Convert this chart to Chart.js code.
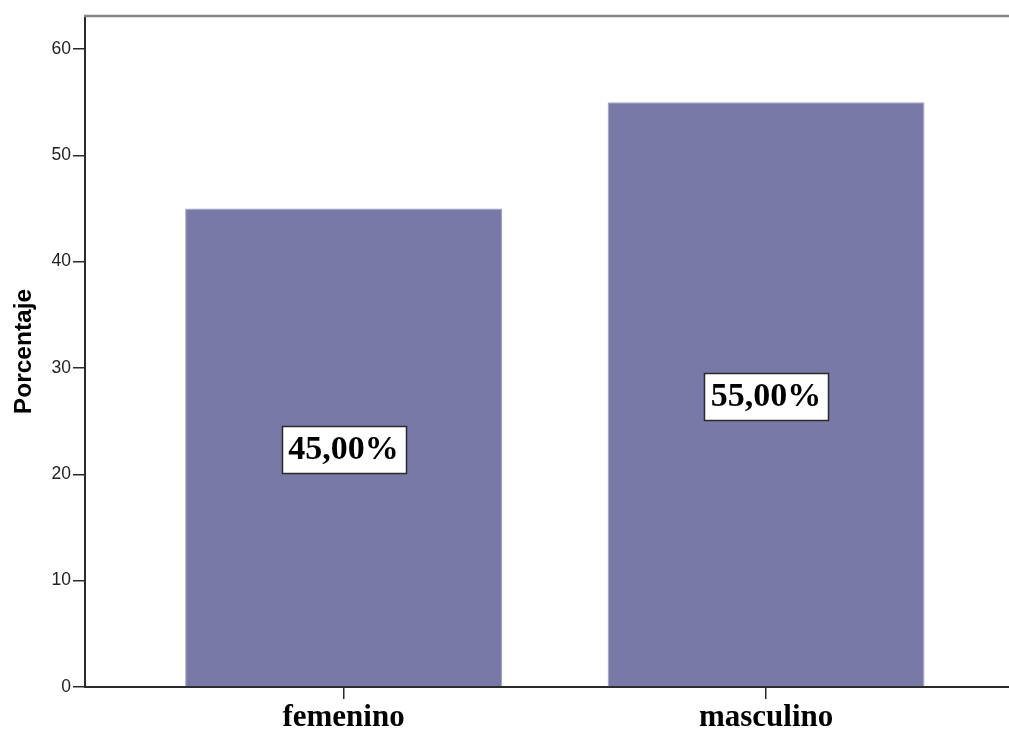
<!DOCTYPE html>
<html lang="es">
<head>
<meta charset="utf-8">
<title>Porcentaje por sexo</title>
<script src="https://cdn.jsdelivr.net/npm/chart.js@4.4.1/dist/chart.umd.min.js"></script>
<style>
  html, body { margin: 0; padding: 0; background: #ffffff; overflow: hidden; }
  #wrap { width: 1009px; height: 733px; }
</style>
</head>
<body>
<div id="wrap"><canvas id="chart" width="1009" height="733"></canvas></div>
<script>
// Categories and percentages
const categories = ['femenino', 'masculino'];
const percentages = [45, 55];
const yTicks = [0, 10, 20, 30, 40, 50, 60];

const barFill = '#7979a7';
const barEdge = '#a3a3c4';

// Percent text with a decimal comma, e.g. "45,00%"
function formatPercent(v) {
  return v.toFixed(2).replace('.', ',') + '%';
}

// Boxed value label at the middle of each bar
const boxedLabels = {
  id: 'boxedLabels',
  afterDatasetsDraw(chart) {
    const ctx = chart.ctx;
    const meta = chart.getDatasetMeta(0);
    ctx.save();
    ctx.font = 'bold 34px "Liberation Serif", "Times New Roman", serif';
    ctx.textAlign = 'center';
    ctx.textBaseline = 'middle';
    meta.data.forEach((bar, i) => {
      const text = formatPercent(percentages[i]);
      const cx = bar.x;
      const cy = (bar.y + bar.base) / 2 + 2;
      const w = ctx.measureText(text).width + 13;
      const h = 47;
      const x0 = Math.round(cx - w / 2) + 0.5;
      const y0 = Math.round(cy - h / 2) + 0.5;
      ctx.fillStyle = '#ffffff';
      ctx.fillRect(x0, y0, Math.round(w), h);
      ctx.strokeStyle = '#2a2a2a';
      ctx.lineWidth = 1.5;
      ctx.strokeRect(x0, y0, Math.round(w), h);
      ctx.fillStyle = '#000000';
      ctx.fillText(text, cx, cy + 1);
    });
    ctx.restore();
  }
};

// Gray frame line along the top of the plot area
const topFrame = {
  id: 'topFrame',
  afterDraw(chart) {
    const { ctx, chartArea } = chart;
    ctx.save();
    ctx.strokeStyle = '#858585';
    ctx.lineWidth = 2.5;
    ctx.beginPath();
    ctx.moveTo(chartArea.left - 1, chartArea.top);
    ctx.lineTo(chartArea.right, chartArea.top);
    ctx.stroke();
    ctx.restore();
  }
};

new Chart(document.getElementById('chart'), {
  type: 'bar',
  data: {
    datasets: [{
      data: categories.map((c, i) => ({ x: i + 1, y: percentages[i] })),
      backgroundColor: barFill,
      borderColor: barEdge,
      borderWidth: 1,
      categoryPercentage: 0.75,
      barPercentage: 1.0
    }]
  },
  options: {
    responsive: false,
    devicePixelRatio: 1,
    animation: false,
    layout: { padding: { top: 16, right: 0, left: 0, bottom: 0 } },
    plugins: {
      legend: { display: false },
      tooltip: { enabled: false }
    },
    scales: {
      x: {
        type: 'linear',
        offset: false,
        min: 0.388,
        max: 2.575,
        afterBuildTicks(scale) {
          scale.ticks = categories.map((c, i) => ({ value: i + 1 }));
        },
        afterFit(scale) { scale.height = 46; },
        ticks: {
          callback: (v) => categories[v - 1] || '',
          color: '#000000',
          padding: 0,
          maxRotation: 0,
          autoSkip: false,
          font: { family: '"Liberation Serif", "Times New Roman", serif', size: 31, weight: 'bold', lineHeight: 1.2 }
        },
        grid: {
          offset: false,
          drawOnChartArea: false,
          drawTicks: true,
          tickLength: 12,
          color: '#2a2a2a',
          lineWidth: 1.5
        },
        border: { display: true, color: '#2a2a2a', width: 2 }
      },
      y: {
        min: 0,
        max: 63.1,
        afterBuildTicks(scale) {
          scale.ticks = yTicks.map(v => ({ value: v }));
        },
        afterFit(scale) { scale.width = 85; },
        title: {
          display: true,
          text: 'Porcentaje',
          color: '#000000',
          padding: { top: 10, bottom: 0 },
          font: { family: '"Liberation Sans", Arial, sans-serif', size: 24.5, weight: 'bold' }
        },
        ticks: {
          color: '#222222',
          padding: 2,
          font: { family: '"Liberation Sans", Arial, sans-serif', size: 17.5 }
        },
        grid: {
          drawOnChartArea: false,
          drawTicks: true,
          tickLength: 12,
          color: '#2a2a2a',
          lineWidth: 1.5
        },
        border: { display: true, color: '#2a2a2a', width: 2 }
      }
    }
  },
  plugins: [boxedLabels, topFrame]
});
</script>
</body>
</html>
